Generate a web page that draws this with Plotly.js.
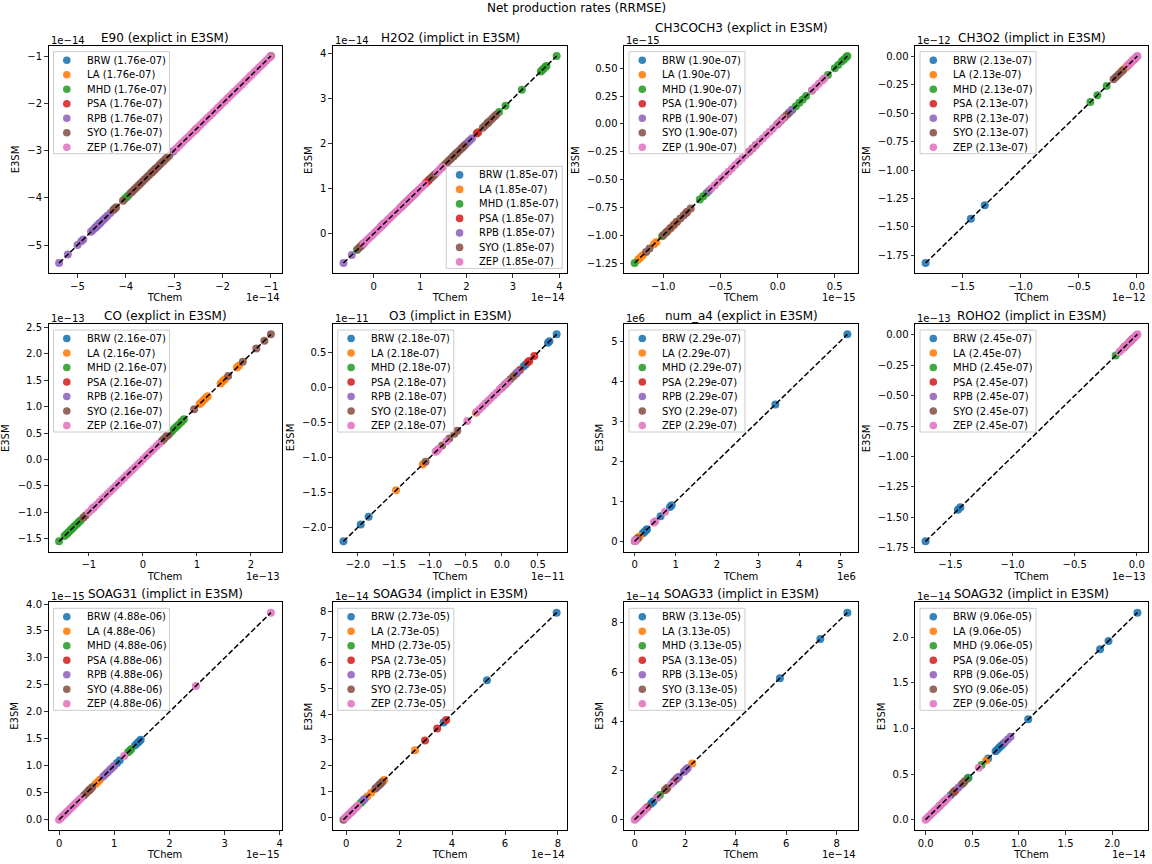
<!DOCTYPE html>
<html>
<head>
<meta charset="utf-8">
<script src="https://cdn.plot.ly/plotly-3.0.1.min.js"></script>
<style>html,body{margin:0;padding:0;background:#fff;}#chart{width:1152px;height:864px;}</style>
</head>
<body>
<div id="chart"></div>
<script>
// ---------------- data ----------------
const stations = ['BRW', 'LA', 'MHD', 'PSA', 'RPB', 'SYO', 'ZEP'];
const stationColors = ['#1f77b4', '#ff7f0e', '#2ca02c', '#d62728', '#9467bd', '#8c564b', '#e377c2'];

const species = ['E90', 'H2O2', 'CH3COCH3', 'CH3O2', 'CO', 'O3', 'num_a4', 'ROHO2', 'SOAG31', 'SOAG34', 'SOAG33', 'SOAG32'];
const solverMode = ['explict', 'implict', 'explict', 'implict', 'explict', 'implict', 'explict', 'implict', 'implict', 'implict', 'implict', 'implict'];
const rrmse = ['1.76e-07', '1.85e-07', '1.90e-07', '2.13e-07', '2.16e-07', '2.18e-07', '2.29e-07', '2.45e-07', '4.88e-06', '2.73e-05', '3.13e-05', '9.06e-05'];
const scaleExp = [-14, -14, -15, -12, -13, -11, 6, -13, -15, -14, -14, -14];
const legendLoc = ['upper left', 'lower right', 'upper left', 'upper left', 'upper left', 'upper left', 'upper left', 'upper left', 'upper left', 'upper left', 'upper left', 'upper left'];

// values (TChem ~ E3SM, points lie on the 1:1 line), in units of 10^scaleExp; station order as above
const E90_vals = [
  [-4.62, -4.58, -4.54, -3.02],
  [-2.58, -2.54],
  [-4.02, -3.98, -3.95],
  [-3.46, -3.4],
  [-5.38, -5.2, -5.0, -4.92, -4.88, -4.72, -4.68, -4.64, -4.6, -4.56, -4.52, -4.48, -4.45, -4.42, -4.38, -4.32],
  [-4.26, -4.23, -4.2, -4.06, -3.9, -3.86, -3.82, -3.78, -3.74, -3.7, -3.66, -3.62, -3.58, -3.54, -3.5, -3.46, -3.42, -3.38, -3.34, -3.3, -3.26, -3.22, -3.18, -3.14, -3.1, -1.0],
  [-3.0, -2.95, -2.9, -2.85, -2.8, -2.75, -2.7, -2.65, -2.6, -2.55, -2.5, -2.45, -2.4, -2.35, -2.3, -2.25, -2.2, -2.15, -2.1, -2.05, -2.0, -1.95, -1.9, -1.85, -1.8, -1.75, -1.7, -1.65, -1.6, -1.55, -1.5, -1.45, -1.4, -1.35, -1.3, -1.25, -1.2, -1.15, -1.1, -1.05, -1.01]
];
const H2O2_vals = [
  [0.18, 0.22],
  [1.14],
  [-0.36, 1.72, 1.78, 2.46, 2.7, 2.84, 3.19, 3.6, 3.63, 3.66, 3.7, 3.72, 3.94],
  [1.12, 1.17, 1.2, 2.22, 2.25],
  [-0.65, -0.47, 0.92, 1.88, 1.92, 1.96, 2.0, 2.04, 2.08, 2.12],
  [-0.34, -0.3, -0.27, -0.24, -0.21, 0.6, 0.64, 0.68, 0.72, 0.76, 0.8, 0.84, 0.88, 1.24, 1.28, 1.32, 1.48, 1.52, 1.56, 1.6, 1.64, 1.68, 1.72, 1.76, 1.8, 1.84, 1.9, 1.95, 2.35, 2.4, 2.45, 2.5, 2.55, 2.6, 2.64],
  [-0.22, -0.18, -0.14, -0.1, -0.06, -0.02, 0.02, 0.06, 0.1, 0.14, 0.18, 0.22, 0.26, 0.3, 0.34, 0.38, 0.42, 0.46, 0.5, 0.54, 0.58, 0.62, 0.66, 0.7, 0.74, 0.78, 0.82, 0.86, 0.9, 0.94, 0.98, 1.02, 1.06, 1.1, 1.36, 1.4, 1.44, 1.48]
];
const CH3COCH3_vals = [
  [0.1],
  [-1.22, -1.2, -1.18, -1.08, -1.06, -0.96, -0.93, -0.9, -0.88],
  [-1.25, -1.01, -0.98, -0.68, -0.65, -0.62, 0.13, 0.16, 0.19, 0.22, 0.25, 0.3, 0.44, 0.5, 0.53, 0.56, 0.58, 0.6, 0.61],
  [-0.8],
  [-0.6, 0.1, 0.12],
  [-1.15, -1.12, -1.0, -0.97, -0.94, -0.91, -0.88, -0.85, -0.82, -0.79, -0.76, -0.25, -0.22, -0.19, 0.0, 0.03, 0.06, 0.08],
  [-0.58, -0.55, -0.52, -0.49, -0.46, -0.43, -0.4, -0.37, -0.34, -0.31, -0.28, -0.25, -0.22, -0.19, -0.16, -0.13, -0.1, -0.07, -0.04, -0.01, 0.02, 0.05, 0.3, 0.33, 0.36, 0.39, 0.41]
];
const CH3O2_vals = [
  [-1.82, -1.43, -1.31, -0.08],
  [-0.12, -0.1, -0.08, -0.06],
  [-0.4, -0.34, -0.26],
  [-0.03],
  [-0.02],
  [-0.2, -0.18, -0.16, -0.14, -0.12],
  [-0.08, -0.065, -0.05, -0.04, -0.03, -0.02, -0.01, 0.0, 0.005]
];
const CO_vals = [
  [0.5],
  [0.7, 1.05, 1.09, 1.13, 1.17, 1.2, 1.44, 1.48, 1.52, 1.74, 1.78],
  [-1.55, -1.45, -1.42, -1.39, -1.36, -1.33, -1.3, -1.27, -1.24, -1.21, -1.18, -1.15, 0.5, 0.54, 0.58, 0.62, 0.66, 0.72, 0.76],
  [0.46],
  [-0.92],
  [-1.1, -1.06, 0.35, 0.39, 0.43, 0.47, 0.95, 1.58, 1.85, 2.1, 2.25, 2.37],
  [-1.0, -0.95, -0.9, -0.85, -0.8, -0.75, -0.7, -0.65, -0.6, -0.55, -0.5, -0.45, -0.4, -0.35, -0.3, -0.25, -0.2, -0.15, -0.1, -0.05, 0.0, 0.05, 0.1, 0.15, 0.2, 0.25, 0.3]
];
const O3_vals = [
  [-2.2, -1.96, -1.85, 0.3, 0.33, 0.64, 0.66, 0.76],
  [-1.47, -1.1, -0.36],
  [0.05],
  [0.2, 0.25, 0.36, 0.38, 0.45],
  [0.2, 0.22],
  [-1.06, -0.83, -0.73, -0.66, -0.62, 0.0, 0.04, 0.08, 0.12, 0.16],
  [-0.92, -0.9, -0.88, -0.77, -0.48, -0.35, -0.31, -0.27, -0.23, -0.19, -0.15, -0.11, -0.07, -0.03, 0.01, 0.05, 0.08]
];
const num_a4_vals = [
  [0.2, 0.24, 0.28, 0.3, 0.63, 0.86, 0.9, 3.42, 5.17],
  [0.08, 0.1, 0.12],
  [0.01],
  [0.02],
  [0.03],
  [0.05, 0.07],
  [0.0, 0.01, 0.02, 0.03, 0.47, 0.5, 0.74]
];
const ROHO2_vals = [
  [-1.7, -1.44, -1.42],
  [-0.1, -0.08],
  [-0.17, -0.1],
  [-0.05],
  [-0.06],
  [-0.04, -0.03],
  [-0.14, -0.12, -0.1, -0.08, -0.06, -0.04, -0.02, -0.01, 0.0, 0.005]
];
const SOAG31_vals = [
  [1.05, 1.1, 1.38, 1.42, 1.45, 1.48],
  [0.66, 0.7, 0.74],
  [1.25, 1.28, 1.31],
  [0.55],
  [0.8, 0.84, 0.88, 0.92, 0.96, 1.0],
  [0.45, 0.49, 0.53, 0.57, 0.6],
  [0.0, 0.03, 0.06, 0.09, 0.12, 0.15, 0.18, 0.21, 0.24, 0.27, 0.3, 0.33, 0.36, 0.4, 1.18, 2.48, 3.84]
];
const SOAG34_vals = [
  [3.68, 5.32, 7.95],
  [0.8, 0.95, 1.38, 1.44, 2.6],
  [0.55, 0.6],
  [2.98, 3.44, 3.78],
  [0.66, 0.7, 1.15, 1.2],
  [-0.1, 1.1, 1.25, 1.3, 1.35],
  [-0.05, 0.0, 0.05, 0.1, 0.15, 0.2, 0.25, 0.3, 0.35, 0.4, 0.45]
];
const SOAG33_vals = [
  [0.65, 0.7, 0.75, 1.55, 5.75, 7.35, 8.42],
  [2.28],
  [0.9, 1.0],
  [0.5, 1.65],
  [1.7, 1.75, 1.95, 2.0, 2.05, 2.1],
  [1.2, 1.25, 1.3],
  [0.0, 0.05, 0.1, 0.15, 0.2, 0.25, 0.3, 0.35, 0.4, 0.45, 0.9, 1.45]
];
const SOAG32_vals = [
  [0.27, 0.46, 0.67, 0.75, 0.77, 0.79, 0.81, 0.83, 1.1, 1.87, 1.96, 2.27],
  [0.65],
  [0.2, 0.45, 0.6],
  [0.3, 0.32],
  [0.35, 0.38, 0.85, 0.88, 0.91],
  [0.15, 0.3, 0.4, 0.42],
  [0.0, 0.02, 0.04, 0.06, 0.08, 0.1, 0.12, 0.14, 0.16, 0.18, 0.2, 0.22, 0.24, 0.57]
];
const panelValues = [E90_vals, H2O2_vals, CH3COCH3_vals, CH3O2_vals, CO_vals, O3_vals, num_a4_vals, ROHO2_vals, SOAG31_vals, SOAG34_vals, SOAG33_vals, SOAG32_vals];

// tick positions (in units of 10^scaleExp) and labels
const xTickVals = [
  [-5, -4, -3, -2, -1], [0, 1, 2, 3, 4], [-1.0, -0.5, 0.0, 0.5], [-1.5, -1.0, -0.5, 0.0],
  [-1, 0, 1, 2], [-2.0, -1.5, -1.0, -0.5, 0.0, 0.5], [0, 1, 2, 3, 4, 5], [-1.5, -1.0, -0.5, 0.0],
  [0, 1, 2, 3, 4], [0, 2, 4, 6, 8], [0, 2, 4, 6, 8], [0.0, 0.5, 1.0, 1.5, 2.0]
];
const xTickText = [
  ['−5', '−4', '−3', '−2', '−1'], ['0', '1', '2', '3', '4'], ['−1.0', '−0.5', '0.0', '0.5'], ['−1.5', '−1.0', '−0.5', '0.0'],
  ['−1', '0', '1', '2'], ['−2.0', '−1.5', '−1.0', '−0.5', '0.0', '0.5'], ['0', '1', '2', '3', '4', '5'], ['−1.5', '−1.0', '−0.5', '0.0'],
  ['0', '1', '2', '3', '4'], ['0', '2', '4', '6', '8'], ['0', '2', '4', '6', '8'], ['0.0', '0.5', '1.0', '1.5', '2.0']
];
const yTickVals = [
  [-5, -4, -3, -2, -1], [0, 1, 2, 3, 4], [-1.25, -1.0, -0.75, -0.5, -0.25, 0.0, 0.25, 0.5], [-1.75, -1.5, -1.25, -1.0, -0.75, -0.5, -0.25, 0.0],
  [-1.5, -1.0, -0.5, 0.0, 0.5, 1.0, 1.5, 2.0, 2.5], [-2.0, -1.5, -1.0, -0.5, 0.0, 0.5], [0, 1, 2, 3, 4, 5], [-1.75, -1.5, -1.25, -1.0, -0.75, -0.5, -0.25, 0.0],
  [0.0, 0.5, 1.0, 1.5, 2.0, 2.5, 3.0, 3.5, 4.0], [0, 1, 2, 3, 4, 5, 6, 7, 8], [0, 2, 4, 6, 8], [0.0, 0.5, 1.0, 1.5, 2.0]
];
const yTickText = [
  ['−5', '−4', '−3', '−2', '−1'], ['0', '1', '2', '3', '4'],
  ['−1.25', '−1.00', '−0.75', '−0.50', '−0.25', '0.00', '0.25', '0.50'],
  ['−1.75', '−1.50', '−1.25', '−1.00', '−0.75', '−0.50', '−0.25', '0.00'],
  ['−1.5', '−1.0', '−0.5', '0.0', '0.5', '1.0', '1.5', '2.0', '2.5'],
  ['−2.0', '−1.5', '−1.0', '−0.5', '0.0', '0.5'], ['0', '1', '2', '3', '4', '5'],
  ['−1.75', '−1.50', '−1.25', '−1.00', '−0.75', '−0.50', '−0.25', '0.00'],
  ['0.0', '0.5', '1.0', '1.5', '2.0', '2.5', '3.0', '3.5', '4.0'], ['0', '1', '2', '3', '4', '5', '6', '7', '8'],
  ['0', '2', '4', '6', '8'], ['0.0', '0.5', '1.0', '1.5', '2.0']
];

// ---------------- layout geometry (pixels) ----------------
const FIG_W = 1152, FIG_H = 864;
const colLeft = [48.5, 332.8, 624, 915];
const colWidth = [233, 234.5, 234, 233];
const rowTop = [45.7, 324, 602.3];
const AX_H = 227.7;
const FONT = 'DejaVu Sans, Liberation Sans, Arial, sans-serif';
const MARKER_OPACITY = 0.9;

const px = v => v / FIG_W;
const py = v => 1 - v / FIG_H;

// text measuring (for label placement like matplotlib)
const measureCtx = document.createElement('canvas').getContext('2d');
function textWidth(str, size) {
  measureCtx.font = size + 'px "DejaVu Sans"';
  return measureCtx.measureText(str).width;
}

const traces = [];
const layout = {
  width: FIG_W, height: FIG_H,
  margin: {l: 0, r: 0, t: 0, b: 0},
  paper_bgcolor: '#ffffff', plot_bgcolor: '#ffffff',
  showlegend: false,
  font: {family: FONT, size: 10, color: '#000000'},
  annotations: [], shapes: []
};

layout.annotations.push({
  text: 'Net production rates (RRMSE)', xref: 'paper', yref: 'paper',
  x: 0.5, y: py(8.5), xanchor: 'center', yanchor: 'middle', showarrow: false,
  font: {family: FONT, size: 12, color: '#000'}
});

function scaleLabel(e) {
  return e < 0 ? '1e\u2212' + (-e) : '1e' + e;
}

for (let p = 0; p < 12; p++) {
  const suf = p === 0 ? '' : String(p + 1);
  const row = Math.floor(p / 4), col = p % 4;
  const L = colLeft[col], T = rowTop[row], AX_W = colWidth[col];
  const scale = Math.pow(10, scaleExp[p]);
  const vals = panelValues[p];

  let mn = Infinity, mx = -Infinity;
  vals.forEach(arr => arr.forEach(v => { if (v < mn) mn = v; if (v > mx) mx = v; }));
  const span = mx - mn;
  const rng = [(mn - 0.05 * span) * scale, (mx + 0.05 * span) * scale];

  for (let s = 0; s < stations.length; s++) {
    const xs = vals[s].map(v => v * scale);
    traces.push({
      type: 'scatter', mode: 'markers', name: stations[s],
      x: xs, y: xs,
      xaxis: 'x' + suf, yaxis: 'y' + suf,
      marker: {color: stationColors[s], size: 8, opacity: MARKER_OPACITY, line: {width: 0}},
      showlegend: false, hoverinfo: 'skip'
    });
  }
  // 1:1 reference line
  traces.push({
    type: 'scatter', mode: 'lines',
    x: [mn * scale, mx * scale], y: [mn * scale, mx * scale],
    xaxis: 'x' + suf, yaxis: 'y' + suf,
    line: {color: '#000000', width: 1.5, dash: '5.5px,2.4px'},
    showlegend: false, hoverinfo: 'skip'
  });

  const common = {
    showgrid: false, zeroline: false, showline: true, mirror: true,
    linecolor: '#000000', linewidth: 1,
    ticks: 'outside', ticklen: 3.5, tickwidth: 0.8, tickcolor: '#000000',
    tickfont: {family: FONT, size: 10, color: '#000000'},
    tickmode: 'array', automargin: false, fixedrange: true, range: rng
  };
  layout['xaxis' + suf] = Object.assign({}, common, {
    domain: [px(L), px(L + AX_W)], anchor: 'y' + suf,
    tickvals: xTickVals[p].map(v => v * scale), ticktext: xTickText[p],
    title: {text: 'TChem', font: {family: FONT, size: 10, color: '#000'}, standoff: 3}
  });
  layout['yaxis' + suf] = Object.assign({}, common, {
    domain: [py(T + AX_H), py(T)], anchor: 'x' + suf,
    tickvals: yTickVals[p].map(v => v * scale), ticktext: yTickText[p]
  });

  // y-axis label placed left of the widest tick label
  const tickW = Math.max(...yTickText[p].map(t => textWidth(t, 10)));
  layout.annotations.push({
    text: 'E3SM', xref: 'paper', yref: 'paper', textangle: -90,
    x: px(L - 7 - tickW - 11), y: py(T + AX_H / 2), xanchor: 'center', yanchor: 'middle', showarrow: false,
    font: {family: FONT, size: 10, color: '#000'}
  });

  // offset texts
  const offLabel = scaleLabel(scaleExp[p]);
  layout.annotations.push({
    text: offLabel, xref: 'paper', yref: 'paper',
    x: px(L), y: py(T), xanchor: 'left', yanchor: 'bottom', yshift: -2, showarrow: false,
    font: {family: FONT, size: 10, color: '#000'}
  });
  layout.annotations.push({
    text: offLabel, xref: 'paper', yref: 'paper',
    x: px(L + AX_W), y: py(T + AX_H), xanchor: 'right', yanchor: 'top', yshift: -17, showarrow: false,
    font: {family: FONT, size: 10, color: '#000'}
  });

  // subplot title (raised when it would collide with the y offset text, as matplotlib does)
  const titleText = species[p] + ' (' + solverMode[p] + ' in E3SM)';
  const titleLeft = L + AX_W / 2 - textWidth(titleText, 12) / 2;
  const offRight = L + textWidth(offLabel, 10);
  const raise = titleLeft < offRight + 1 ? 10 : 0;
  layout.annotations.push({
    text: titleText, xref: 'paper', yref: 'paper',
    x: px(L + AX_W / 2), y: py(T), xanchor: 'center', yanchor: 'bottom', yshift: -1 + raise, showarrow: false,
    font: {family: FONT, size: 12, color: '#000'}
  });

  // legend (drawn as box + markers + text)
  const BOX_W = 116, BOX_H = 102, ROW_H = 14.5;
  let bx, by;
  if (legendLoc[p] === 'upper left') { bx = L + 5; by = T + 6; }
  else { bx = L + AX_W - 5 - BOX_W; by = T + AX_H - 5 - BOX_H; }
  layout.shapes.push({
    type: 'rect', xref: 'paper', yref: 'paper', layer: 'above',
    x0: px(bx), x1: px(bx + BOX_W), y0: py(by + BOX_H), y1: py(by),
    fillcolor: 'rgba(255,255,255,0.8)', line: {color: '#cccccc', width: 1}
  });
  for (let s = 0; s < stations.length; s++) {
    const cy = by + 8.5 + ROW_H * s;
    layout.shapes.push({
      type: 'circle', xref: 'paper', yref: 'paper', layer: 'above',
      xsizemode: 'pixel', ysizemode: 'pixel',
      xanchor: px(bx + 13.3), yanchor: py(cy),
      x0: -3.8, x1: 3.8, y0: -3.8, y1: 3.8,
      fillcolor: stationColors[s], opacity: MARKER_OPACITY, line: {width: 0}
    });
    layout.annotations.push({
      text: stations[s] + ' (' + rrmse[p] + ')', xref: 'paper', yref: 'paper',
      x: px(bx + 31), y: py(cy), xanchor: 'left', yanchor: 'middle', showarrow: false,
      font: {family: FONT, size: 10, color: '#000'}
    });
  }
}

Plotly.newPlot('chart', traces, layout, {staticPlot: true, displayModeBar: false});
</script>
</body>
</html>
